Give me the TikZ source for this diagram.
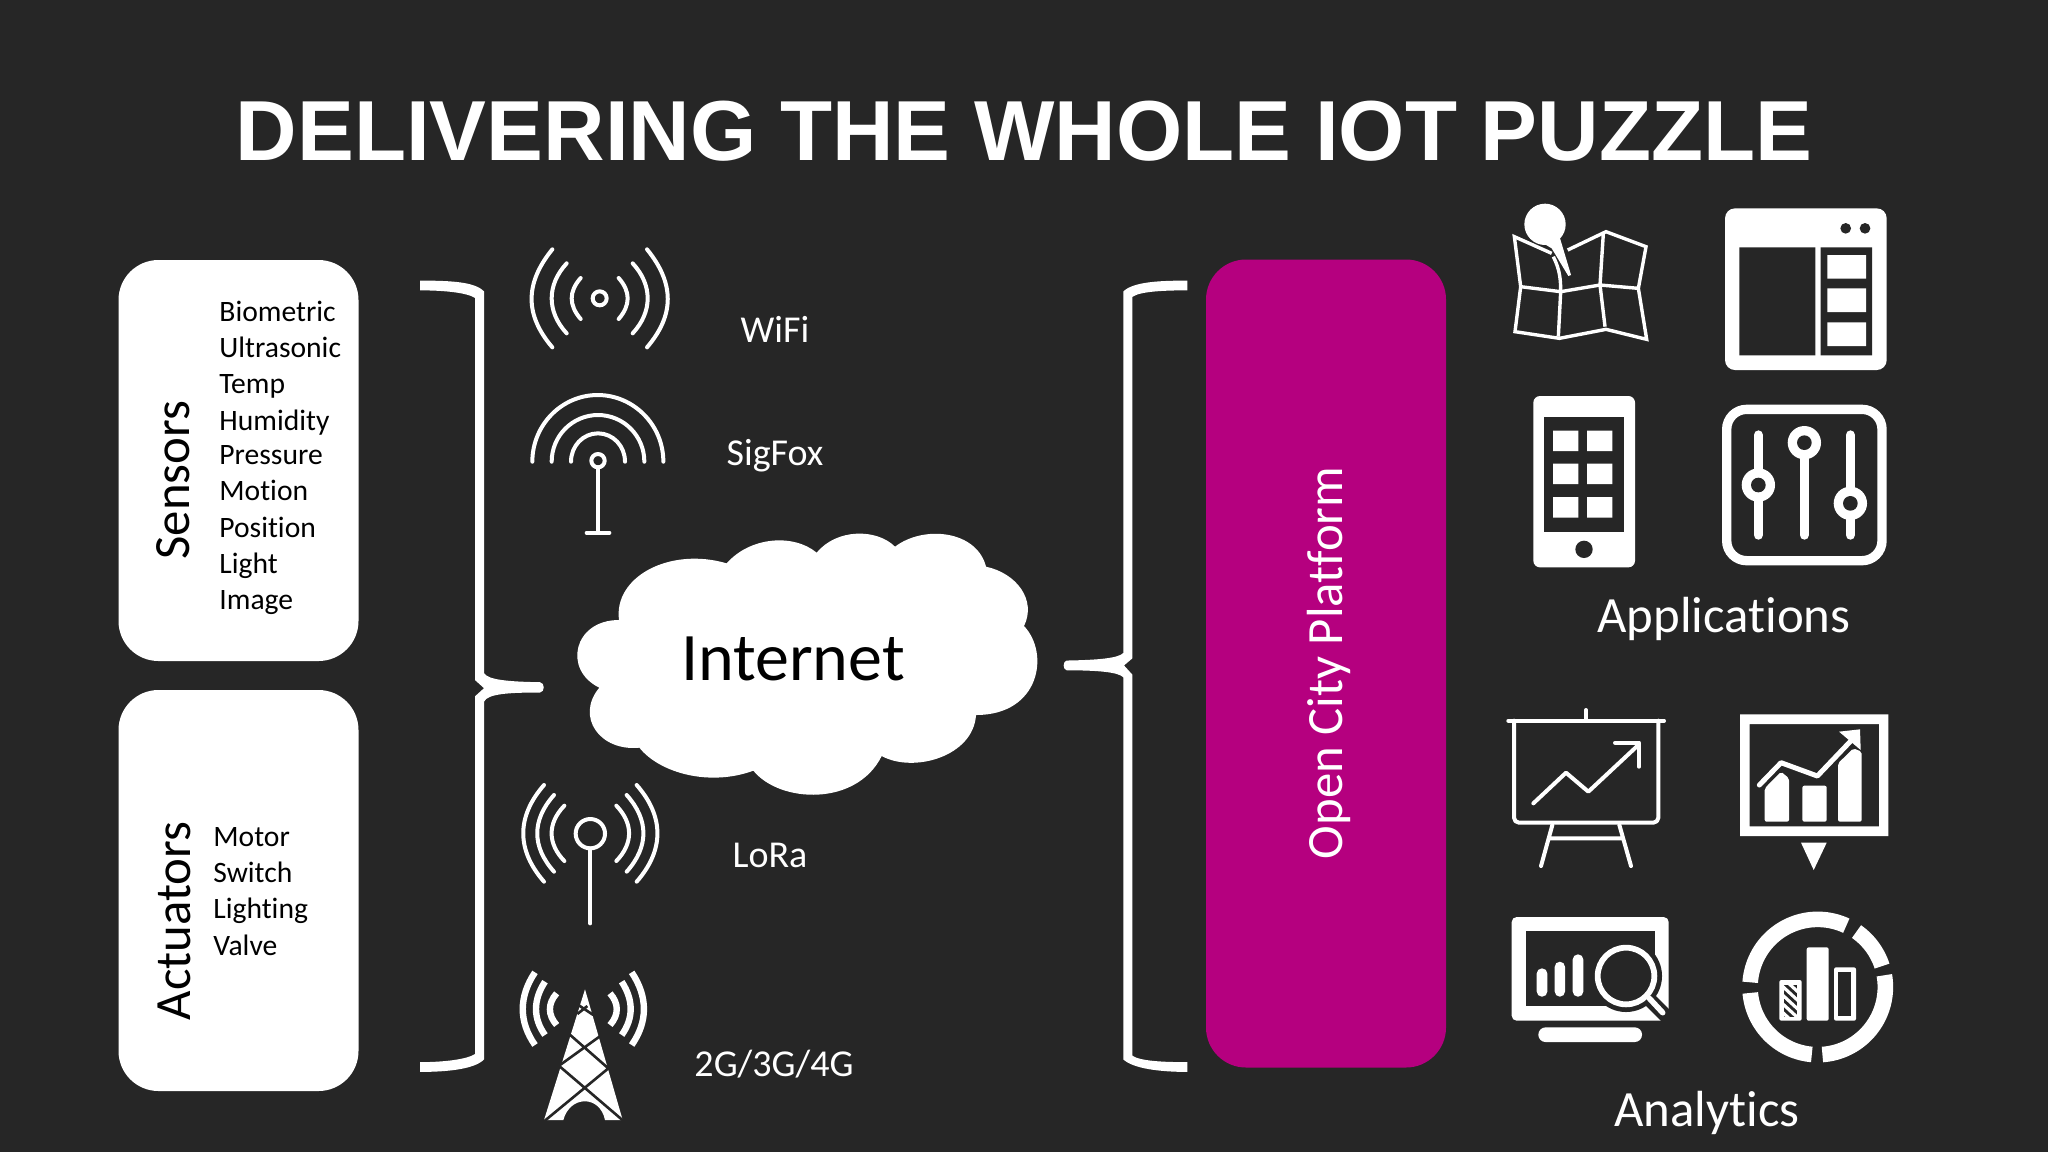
\documentclass[tikz,border=0pt]{standalone}
\usepackage{fontspec}
\setmainfont[Ligatures=NoCommon]{Carlito}
\newfontfamily\titlefont{Liberation Sans}
\definecolor{bgc}{HTML}{262626}
\definecolor{plat}{HTML}{B5007F}
\tikzset{
 zm/.style 2 args={shift={(#1,#2)},x=0.166667pt,y=-0.166667pt},
 bz/.style 2 args={shift={(#1,#2)},x=0.166667pt,y=-0.271pt},
 wl/.style={draw=white,line width=2pt,line cap=round,line join=round,fill=none},
 wf/.style={fill=white,draw=none},
 df/.style={fill=bgc,draw=none},
 lbl/.style={text=white,font=\fontsize{19}{21}\selectfont,inner sep=0pt,anchor=base},
 big/.style={text=white,font=\fontsize{25.4}{27}\selectfont,inner sep=0pt,anchor=base},
 vlabel/.style={rotate=90,inner sep=0pt,anchor=base,font=\fontsize{25.4}{27}\selectfont},
 itm/.style={text=black,font=\fontsize{14.8}{16}\selectfont,inner sep=0pt,anchor=base west},
 panel/.style={fill=white,draw=none,rounded corners=20pt,inner sep=0pt},
}
\begin{document}
\begin{tikzpicture}[x=0.5pt,y=-0.5pt]
\useasboundingbox (0,0) rectangle (2048,1152);
\fill[bgc] (0,0) rectangle (2048,1152);
\node[text=white,inner sep=0pt,anchor=base,font=\titlefont\bfseries\fontsize{42.6}{44}\selectfont] (title) at (1024,160) {DELIVERING THE WHOLE IOT PUZZLE};
% panels
\node[panel,minimum width=120pt,minimum height=200.5pt] (sensors) at (238.5,460.5) {};
\node[panel,minimum width=120pt,minimum height=200.5pt] (actuators) at (238.5,890.5) {};
\node[panel,fill=plat,minimum width=120pt,minimum height=404pt] (platform) at (1326,663.5) {};
\node[vlabel,text=black] (sensorsl) at (189,480) {Sensors};
\node[vlabel,text=black] (actuatorsl) at (190,921) {Actuators};
\node[vlabel,text=white] (platforml) at (1342,663) {Open City Platform};
\node[itm] (s1) at (219,321) {Biometric};
\node[itm] (s2) at (219,357) {Ultrasonic};
\node[itm] (s3) at (219,393) {Temp};
\node[itm] (s4) at (219,430) {Humidity};
\node[itm] (s5) at (219,464) {Pressure};
\node[itm] (s6) at (219,500) {Motion};
\node[itm] (s7) at (219,537) {Position};
\node[itm] (s8) at (219,573) {Light};
\node[itm] (s9) at (219,609) {Image};
\node[itm] (a1) at (213,846) {Motor};
\node[itm] (a2) at (213,882) {Switch};
\node[itm] (a3) at (213,918) {Lighting};
\node[itm] (a4) at (213,955) {Valve};
% technology labels
\node[lbl] (wifi) at (775,342) {WiFi};
\node[lbl] (sigfox) at (775,465) {SigFox};
\node[lbl] (lora) at (770,867) {LoRa};
\node[lbl] (cell) at (774,1076) {2G/3G/4G};
\node[big] (apps) at (1724,632) {Applications};
\node[big] (analytics) at (1707,1126) {Analytics};
% cloud
\begin{scope}[zm={560}{520}]
\fill[white] (177,300) .. controls (160,170) and (330,80) .. (500,130)
 .. controls (570,50) and (700,40) .. (770,98)
 .. controls (830,25) and (950,25) .. (1005,80)
 .. controls (1090,15) and (1250,30) .. (1278,140)
 .. controls (1370,160) and (1430,240) .. (1392,318)
 .. controls (1470,400) and (1440,585) .. (1248,585)
 .. controls (1240,710) and (1060,760) .. (965,708)
 .. controls (890,860) and (660,850) .. (580,752)
 .. controls (450,800) and (300,760) .. (238,683)
 .. controls (120,695) and (45,590) .. (118,503)
 .. controls (8,450) and (40,300) .. (177,300) -- cycle;
\end{scope}
\node[text=black,inner sep=0pt,anchor=base,font=\fontsize{34}{36}\selectfont] (internet) at (793,680) {Internet};
% left brace
\begin{scope}[bz={400}{260}]
\fill[white] (60,38) .. controls (150,38) and (225,40) .. (252,58) -- (252,762)
 .. controls (262,775) and (330,778) .. (420,779) .. controls (435,780) and (435,797) .. (420,798)
 .. controls (330,798) and (262,800) .. (252,815) -- (252,1475)
 .. controls (225,1492) and (150,1498) .. (60,1498) -- (60,1480)
 .. controls (130,1480) and (200,1475) .. (225,1465) -- (225,805) -- (252,790) -- (225,775) -- (225,70)
 .. controls (200,60) and (130,56) .. (60,56) -- cycle;
\end{scope}
% right brace
\begin{scope}[bz={1050}{260}]
\fill[white] (412,38) .. controls (330,38) and (250,40) .. (220,58) -- (220,725)
 .. controls (205,735) and (140,738) .. (50,739) .. controls (38,740) and (38,756) .. (50,757)
 .. controls (140,757) and (205,760) .. (220,770) -- (220,1475)
 .. controls (250,1492) and (330,1498) .. (412,1498) -- (412,1480)
 .. controls (340,1480) and (270,1478) .. (247,1468) -- (247,765) -- (222,748) -- (247,735) -- (247,68)
 .. controls (270,58) and (340,56) .. (412,56) -- cycle;
\end{scope}
% wifi and sigfox
\begin{scope}[zm={500}{220}]
\draw[wl] (299,235) circle[radius=21];
\draw[wl] (157,88) .. controls (74,190) and (74,285) .. (157,382);
\draw[wl] (200,130) .. controls (140,195) and (140,275) .. (200,340);
\draw[wl] (242,174) .. controls (206,215) and (206,255) .. (242,297);
\draw[wl] (441,88) .. controls (524,190) and (524,285) .. (441,382);
\draw[wl] (398,130) .. controls (458,195) and (458,275) .. (398,340);
\draw[wl] (356,174) .. controls (392,215) and (392,255) .. (356,297);
\draw[wl] (97,725) .. controls (97,615) and (185,525) .. (293,525) .. controls (401,525) and (490,615) .. (490,725);
\draw[wl] (155,725) .. controls (155,648) and (217,585) .. (294,585) .. controls (371,585) and (433,648) .. (433,725);
\draw[wl] (213,725) .. controls (213,678) and (249,640) .. (294,640) .. controls (339,640) and (375,678) .. (375,725);
\draw[wl] (294,722) circle[radius=20];
\draw[wl] (294,742) -- (294,938);
\draw[wl] (260,938) -- (328,938);
\end{scope}
% lora and tower
\begin{scope}[zm={500}{760}]
\draw[wl] (271,221) circle[radius=44];
\draw[wl] (271,265) -- (271,490);
\draw[wl] (132,75) .. controls (49,170) and (49,270) .. (132,365);
\draw[wl] (162,105) .. controls (95,180) and (95,260) .. (162,335);
\draw[wl] (193,137) .. controls (142,190) and (142,250) .. (193,303);
\draw[wl] (410,75) .. controls (493,170) and (493,270) .. (410,365);
\draw[wl] (380,105) .. controls (447,180) and (447,260) .. (380,335);
\draw[wl] (349,137) .. controls (400,190) and (400,250) .. (349,303);
\draw[white,line width=3.2pt] (105,637) .. controls (56,710) and (56,785) .. (105,855);
\draw[white,line width=3.2pt] (135,665) .. controls (99,720) and (99,775) .. (135,825);
\draw[white,line width=3.2pt] (170,700) .. controls (143,730) and (143,765) .. (170,795);
\draw[white,line width=3.2pt] (395,637) .. controls (444,710) and (444,785) .. (395,855);
\draw[white,line width=3.2pt] (365,665) .. controls (401,720) and (401,775) .. (365,825);
\draw[white,line width=3.2pt] (330,700) .. controls (357,730) and (357,765) .. (330,795);
\fill[white] (255,688) -- (368,1080) -- (315,1080) .. controls (300,1005) and (210,1005) .. (190,1080) -- (132,1080) -- cycle;
\draw[bgc,line width=1.3pt] (132,1084) -- (325,925) (372,1084) -- (180,920) (180,915) -- (305,825)
 (325,925) -- (205,820) (232,762) -- (262,738) (280,765) -- (238,737);
\end{scope}
% applications icons
\begin{scope}[zm={1490}{190}]
% map
\draw[white,line width=1.7pt,line join=miter] (233,180) -- (348,125) -- (468,170) -- (445,295) -- (470,448) -- (348,418) -- (208,445) -- (75,425) -- (92,290) -- (73,140) -- (185,190);
\draw[white,line width=1.7pt] (190,200) .. controls (210,240) and (212,270) .. (212,305) -- (205,440);
\draw[white,line width=1.7pt] (340,130) -- (330,285) -- (345,410);
\draw[white,line width=1.7pt] (92,290) -- (212,305) -- (330,285) -- (445,295);
\fill[white] (165,103) circle[radius=62];
\fill[white] (160,160) -- (210,145) -- (243,255) -- (235,258) -- (185,175) -- cycle;
% window
\fill[white,rounded corners=5pt] (705,55) rectangle (1190,540);
\fill[bgc] (748,172) rectangle (976,496) (992,172) rectangle (1146,496);
\fill[bgc] (1067,115) circle[radius=16] (1125,115) circle[radius=16];
\fill[white] (1012,195) rectangle (1128,266) (1012,295) rectangle (1128,366) (1012,397) rectangle (1128,468);
% phone
\fill[white,rounded corners=3.3pt] (130,618) rectangle (435,1132);
\fill[bgc] (163,681) rectangle (403,1025);
\fill[bgc] (282,1078) circle[radius=26];
\fill[white] (189,722) rectangle (265,783) (291,722) rectangle (367,783)
 (189,821) rectangle (265,882) (291,821) rectangle (367,882)
 (189,921) rectangle (265,983) (291,921) rectangle (367,983);
% sliders
\draw[white,line width=4.67pt,rounded corners=10pt] (710,658) rectangle (1176,1112);
\draw[white,line width=4.67pt,line cap=round] (805,735) -- (805,1035) (943,760) -- (943,1035) (1081,735) -- (1081,1035);
\fill[white] (805,885) circle[radius=50] (943,758) circle[radius=50] (1081,940) circle[radius=50];
\fill[bgc] (805,885) circle[radius=22] (943,758) circle[radius=22] (1081,940) circle[radius=22];
\end{scope}
% analytics icons
\begin{scope}[zm={1490}{690}]
% presentation board
\draw[wl] (55,92) -- (522,92) (288,60) -- (288,92);
\draw[wl,rounded corners=2.5pt] (72,92) -- (72,398) -- (505,398) -- (505,92);
\draw[wl] (187,405) -- (153,528) (388,405) -- (423,528) (180,445) -- (395,445);
\draw[wl] (130,340) -- (228,248) -- (295,305) -- (445,165);
\draw[wl] (375,158) -- (447,158) -- (447,230);
% chart monitor
\fill[white,even odd rule] (750,73) rectangle (1195,438) (779,102) rectangle (1167,409);
\fill[white] (933,458) -- (1010,458) -- (971,540) -- cycle;
\fill[white,rounded corners=1pt] (824,395) -- (824,295) -- (873,245) -- (897,265) -- (897,395) -- cycle;
\fill[white,rounded corners=1pt] (937,287) rectangle (1010,395);
\fill[white,rounded corners=1pt] (1044,395) -- (1044,220) -- (1090,175) -- (1115,185) -- (1115,395) -- cycle;
\draw[bgc,line width=4.4pt,line join=round] (808,285) -- (873,218) -- (982,258) -- (1085,150);
\draw[white,line width=2.5pt,line join=round,line cap=round] (808,285) -- (873,218) -- (982,258) -- (1085,150);
\fill[white] (1047,125) -- (1110,118) -- (1112,180) -- cycle;
% magnifier monitor
\fill[white,rounded corners=2.5pt] (65,681) rectangle (536,992);
\fill[bgc] (107,723) rectangle (494,948);
\fill[white,rounded corners=3.6pt] (145,1012) rectangle (456,1056);
\fill[white,rounded corners=2.6pt] (140,835) rectangle (172,920) (194,815) rectangle (225,920) (248,793) rectangle (280,920);
\fill[bgc] (408,858) circle[radius=108];
\draw[bgc,line width=7pt] (475,925) -- (540,990);
\draw[white,line width=2.9pt] (408,858) circle[radius=85];
\draw[white,line width=2.8pt,line cap=round] (478,925) -- (518,968);
% ring chart
\foreach \aa/\bb in {65/176,185/265,274/370,18/55}{
 \draw[white,line width=7.8pt] plot[domain=\aa:\bb,samples=40,smooth] ({983+203*cos(\x)},{891-203*sin(\x)});
}
\fill[white,rounded corners=1pt] (950,772) rectangle (1016,992);
\fill[white,rounded corners=1pt] (1032,832) rectangle (1098,992);
\fill[bgc] (1045,845) rectangle (1084,978);
\fill[white,rounded corners=1pt] (868,870) rectangle (935,992);
\fill[bgc] (882,884) rectangle (922,980);
\begin{scope}
\clip (882,884) rectangle (922,980);
\foreach \yy in {830,856,882,908,934,960}{
 \draw[white,line width=1.6pt] (870,\yy) -- (935,\yy+60);
}
\end{scope}
\end{scope}
\end{tikzpicture}
\end{document}
